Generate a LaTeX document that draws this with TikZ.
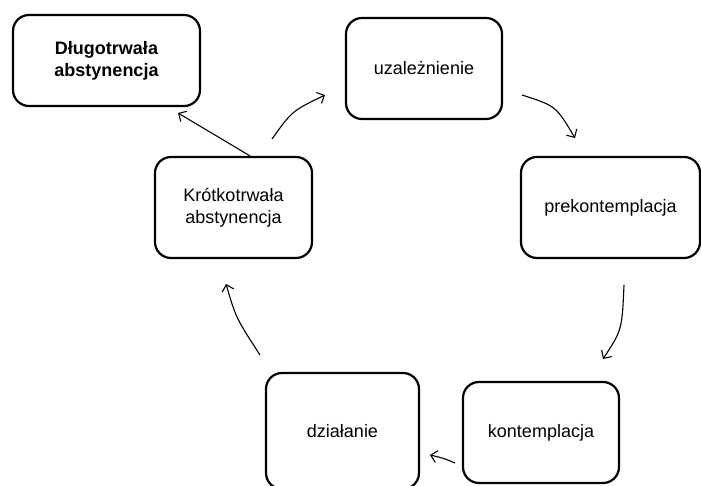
\documentclass[tikz,border=0pt]{standalone}
\usepackage{fontspec}
\setmainfont{Liberation Sans}
\usetikzlibrary{arrows.meta}
\begin{document}
\begin{tikzpicture}[x=1pt,y=-1pt,
  stage/.style={draw=black, line width=2.2pt, rounded corners=16pt, align=center,
    inner sep=0pt, font=\fontsize{18}{22}\selectfont},
  conn/.style={line width=1.1pt, -{Straight Barb[length=6pt,width=12pt,line width=1.1pt]}}]
\useasboundingbox (0,0) rectangle (701,486);
\node[stage, minimum width=187pt, minimum height=91pt, font=\fontsize{18}{22}\selectfont\bfseries] (dlugo) at (106.5,60.5) {Długotrwała\\abstynencja};
\node[stage, minimum width=156pt, minimum height=101pt] (uzal) at (424,68.5) {uzależnienie};
\node[stage, minimum width=179pt, minimum height=101pt] (prek) at (610.5,207.5) {prekontemplacja};
\node[stage, minimum width=156pt, minimum height=101pt] (kont) at (541,432.5) {kontemplacja};
\node[stage, minimum width=153pt, minimum height=116pt] (dzial) at (342.5,431) {działanie};
\node[stage, minimum width=157pt, minimum height=101pt] (krot) at (233.5,207.5) {Krótkotrwała\\abstynencja};
% free ends of connectors
\coordinate (a1) at (522,95);  \coordinate (b1) at (575,138);
\coordinate (a2) at (624,285); \coordinate (b2) at (603,359);
\coordinate (a3) at (455,463); \coordinate (b3) at (430,455);
\coordinate (a4) at (260,355); \coordinate (b4) at (226,284);
\coordinate (b5) at (178,113);
\coordinate (a6) at (272,139); \coordinate (b6) at (325,95);
\draw[conn] (a1) .. controls (556,106) .. (b1);
\draw[conn] (a2) .. controls (622,330) .. (b2);
\draw[conn] (a3) .. controls (443,458) .. (b3);
\draw[conn] (a4) .. controls (236,318) .. (b4);
\draw[conn] (krot.north -| 250,0) -- (b5);
\draw[conn] (a6) .. controls (292,111) .. (b6);
\end{tikzpicture}
\end{document}
